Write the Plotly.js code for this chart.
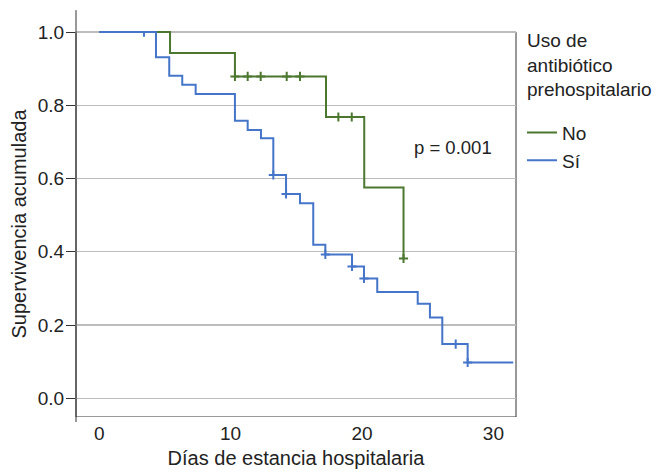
<!DOCTYPE html>
<html>
<head>
<meta charset="utf-8">
<script src="https://cdn.plot.ly/plotly-3.0.1.min.js"></script>
<style>html,body{margin:0;padding:0;background:#fff;}#chart{width:657px;height:473px;}</style>
</head>
<body>
<div id="chart"></div>
<script>
// Kaplan-Meier curves
const seriesNames = ["No", "Sí"];
const legendTitle = "Uso de<br>antibiótico<br>prehospitalario";
const noTimes = [0, 5.39, 10.33, 17.26, 20.17, 23.16];
const noSurv  = [1.0, 0.943, 0.879, 0.768, 0.576, 0.382];
const noCensor = [10.33, 11.30, 12.29, 14.27, 15.28, 18.2, 19.22, 23.16];

const siTimes = [0, 4.32, 5.33, 6.32, 7.34, 10.33, 11.30, 12.31, 13.25, 14.22, 15.28, 16.29, 17.21, 19.24, 20.15, 21.16, 24.24, 25.17, 26.11, 28.04, 31.51];
const siSurv  = [1.0, 0.931, 0.881, 0.856, 0.831, 0.758, 0.733, 0.710, 0.610, 0.558, 0.533, 0.419, 0.393, 0.360, 0.327, 0.290, 0.258, 0.221, 0.148, 0.098, 0.098];
const siCensor = [3.41, 13.25, 14.22, 17.21, 19.24, 20.15, 27.13, 28.04];

const xTicks = [0, 10, 20, 30];
const yTicks = [0.0, 0.2, 0.4, 0.6, 0.8, 1.0];
const yTickLabels = ["0.0", "0.2", "0.4", "0.6", "0.8", "1.0"];

const green = "#4B772F";
const blue = "#4475C9";
const FONT = "Liberation Sans, Arial, Helvetica, sans-serif";
const TXT = "#222";

function stepAt(times, surv, t) {
  let v = surv[0];
  for (let i = 0; i < times.length; i++) { if (times[i] <= t + 1e-9) v = surv[i]; }
  return v;
}

const traces = [
  {x: noTimes, y: noSurv, type: "scatter", mode: "lines", line: {shape: "hv", color: green, width: 2}, name: seriesNames[0]},
  {x: noCensor, y: noCensor.map(t => stepAt(noTimes, noSurv, t)), type: "scatter", mode: "markers",
   marker: {symbol: "cross-thin", size: 6.5, line: {color: green, width: 2}}, showlegend: false, hoverinfo: "skip"},
  {x: siTimes, y: siSurv, type: "scatter", mode: "lines", line: {shape: "hv", color: blue, width: 2}, name: seriesNames[1]},
  {x: siCensor, y: siCensor.map(t => stepAt(siTimes, siSurv, t)), type: "scatter", mode: "markers",
   marker: {symbol: "cross-thin", size: 6.5, line: {color: blue, width: 2}}, showlegend: false, hoverinfo: "skip"}
];

const yMin = -0.051, yMax = 1.003;
const layout = {
  width: 657, height: 473,
  margin: {l: 76, r: 141, t: 31, b: 56, pad: 0},
  paper_bgcolor: "#fff", plot_bgcolor: "#fff",
  font: {family: FONT, color: TXT, size: 19},
  showlegend: true,
  xaxis: {
    range: [-1.766, 31.72], tickvals: xTicks, ticktext: xTicks.map(String),
    ticks: "", showgrid: false, zeroline: false, showline: false,
    tickfont: {size: 19, color: TXT}, ticklabelstandoff: 3,
    title: {text: "Días de estancia hospitalaria", font: {size: 20, color: TXT}, standoff: 7}
  },
  yaxis: {
    range: [yMin, yMax], tickvals: yTicks, ticktext: yTickLabels,
    ticks: "outside", ticklen: 9, tickcolor: "#333", tickwidth: 1,
    showgrid: true, gridcolor: "#bdbdbd", gridwidth: 1.3, zeroline: false, showline: false,
    tickfont: {size: 19, color: TXT}, ticklabelstandoff: -2,
    title: {text: "Supervivencia acumulada", font: {size: 20, color: TXT}, standoff: 5}
  },
  legend: {
    x: 1.0136, xanchor: "left", y: 0.786, yanchor: "top",
    font: {size: 19, color: TXT}, bgcolor: "rgba(0,0,0,0)", borderwidth: 0,
    tracegroupgap: 0
  },
  shapes: [
    {type: "rect", xref: "paper", x0: 0, x1: 1, yref: "y", y0: yMin, y1: 1.0, line: {color: "#333", width: 1}, layer: "below"},
    {type: "line", xref: "paper", x0: 0, x1: 0, yref: "paper", y0: -0.013, y1: 1.054, line: {color: "#333", width: 1}}
  ],
  annotations: [
    {text: "p = 0.001", x: 26.9, y: 0.684, xref: "x", yref: "y", showarrow: false, font: {size: 18.5, color: TXT}},
    {text: legendTitle, x: 1.0205, xanchor: "left", y: 1.009, yanchor: "top", xref: "paper", yref: "paper",
     align: "left", showarrow: false, font: {size: 19, color: TXT}}
  ]
};

Plotly.newPlot("chart", traces, layout, {displayModeBar: false, staticPlot: true});
</script>
</body>
</html>
